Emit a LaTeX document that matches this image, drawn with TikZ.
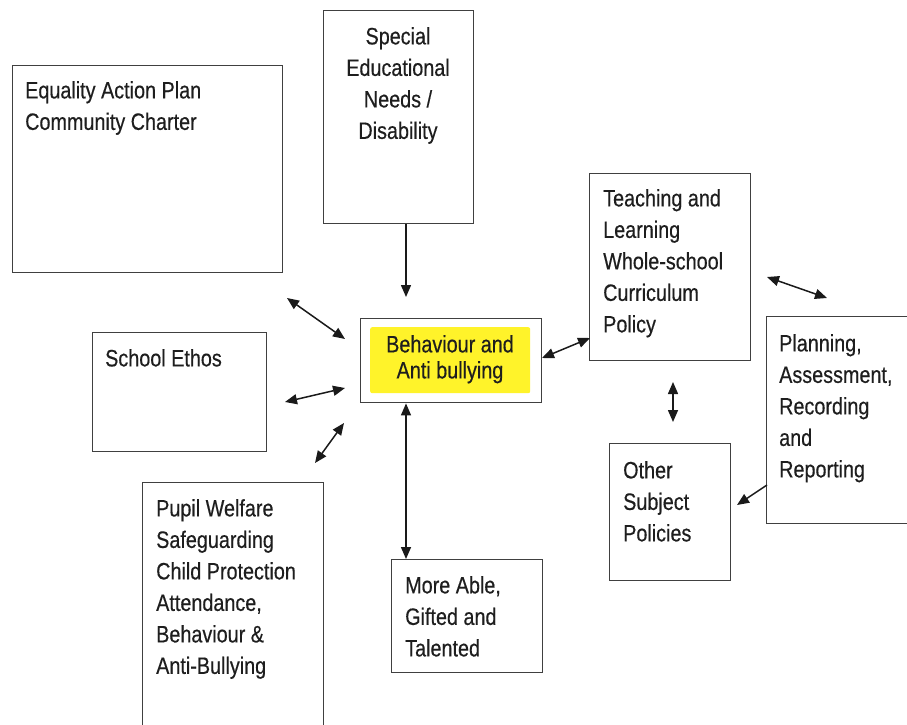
\documentclass[tikz,border=0pt]{standalone}
\usepackage{fontspec}
\setmainfont{Liberation Sans}[FakeStretch=0.835,FakeBold=0.4]
\usetikzlibrary{arrows.meta}
\definecolor{boxgray}{HTML}{404040}
\definecolor{txtgray}{HTML}{1E1E1E}
\definecolor{arrgray}{HTML}{1A1A1A}
\definecolor{hiyellow}{HTML}{FFF32A}
\begin{document}
\begin{tikzpicture}[x=1pt,y=-1pt,
  box/.style={draw=boxgray, line width=1.4pt, fill=white, anchor=north west, inner sep=0pt},
  txt/.style={anchor=north west, inner sep=0pt, align=left, text=txtgray, font=\fontsize{23.7}{31.5}\selectfont},
  ctxt/.style={txt, align=center, anchor=north},
  link/.style={line width=1.5pt, draw=arrgray, {Triangle[length=12pt,width=10pt]}-{Triangle[length=12pt,width=10pt]}},
  onelink/.style={line width=1.5pt, draw=arrgray, -{Triangle[length=12pt,width=10pt]}}]
\useasboundingbox (0,0) rectangle (907,725);
\fill[white] (0,0) rectangle (907,725);
\begin{scope}
\clip (0,0) rectangle (907,725);
% boxes
\node[box, minimum width=270pt, minimum height=207pt] (eq) at (12,65) {};
\node[txt] (eqt) at (25,81) {Equality Action Plan\\Community Charter};

\node[box, minimum width=150pt, minimum height=213pt] (sen) at (323,10) {};
\node[ctxt] (sent) at (398,27) {Special\\Educational\\Needs /\\Disability};

\node[box, minimum width=161pt, minimum height=187pt] (teach) at (589,173) {};
\node[txt] (teacht) at (603,189) {Teaching and\\Learning\\Whole-school\\Curriculum\\Policy};

\node[box, minimum width=150pt, minimum height=207pt] (plan) at (766,316) {};
\node[txt] (plant) at (779,334) {Planning,\\Assessment,\\Recording\\and\\Reporting};

\node[box, minimum width=121pt, minimum height=137pt] (other) at (609,443) {};
\node[txt] (othert) at (623,461) {Other\\Subject\\Policies};

\node[box, minimum width=174pt, minimum height=119pt] (ethos) at (92,332) {};
\node[txt] (ethost) at (105,349) {School Ethos};

\node[box, minimum width=181pt, minimum height=258pt] (pupil) at (142,482) {};
\node[txt] (pupilt) at (156,499) {Pupil Welfare\\Safeguarding\\Child Protection\\Attendance,\\Behaviour \&\\Anti-Bullying};

\node[box, minimum width=151pt, minimum height=113pt] (more) at (391,559) {};
\node[txt] (moret) at (405,576) {More Able,\\Gifted and\\Talented};

\node[box, minimum width=181pt, minimum height=84pt] (beh) at (360,318) {};
\node[fill=hiyellow, rounded corners=2pt, anchor=north west, inner sep=0pt, minimum width=160pt, minimum height=66pt] (behy) at (370,327) {};
\node[ctxt, font=\fontsize{23.7}{26}\selectfont] (beht) at (450,335) {Behaviour and\\Anti bullying};
\end{scope}

% connector end points
\coordinate (a1s) at (287,298); \coordinate (a1e) at (345,339);
\coordinate (a2s) at (285,402); \coordinate (a2e) at (345,388);
\coordinate (a3s) at (315,463); \coordinate (a3e) at (344,423);
\coordinate (senx) at (406,0);
\coordinate (senend) at (406,297);
\coordinate (bt1) at (542,358); \coordinate (bt2) at (590,338);
\coordinate (tp1) at (767,277); \coordinate (tp2) at (827,298);
\coordinate (to1) at (673,382); \coordinate (to2) at (673,422);
\coordinate (po1) at (767,485); \coordinate (po2) at (737,505);

\draw[link] (a1s) -- (a1e);
\draw[link] (a2s) -- (a2e);
\draw[link] (a3s) -- (a3e);
\draw[onelink] (sen.south -| senx) -- (senend);
\draw[link] (beh.south -| senx) -- (more.north -| senx);
\draw[link] (bt1) -- (bt2);
\draw[link] (tp1) -- (tp2);
\draw[link] (to1) -- (to2);
\draw[onelink] (po1) -- (po2);
\end{tikzpicture}
\end{document}
